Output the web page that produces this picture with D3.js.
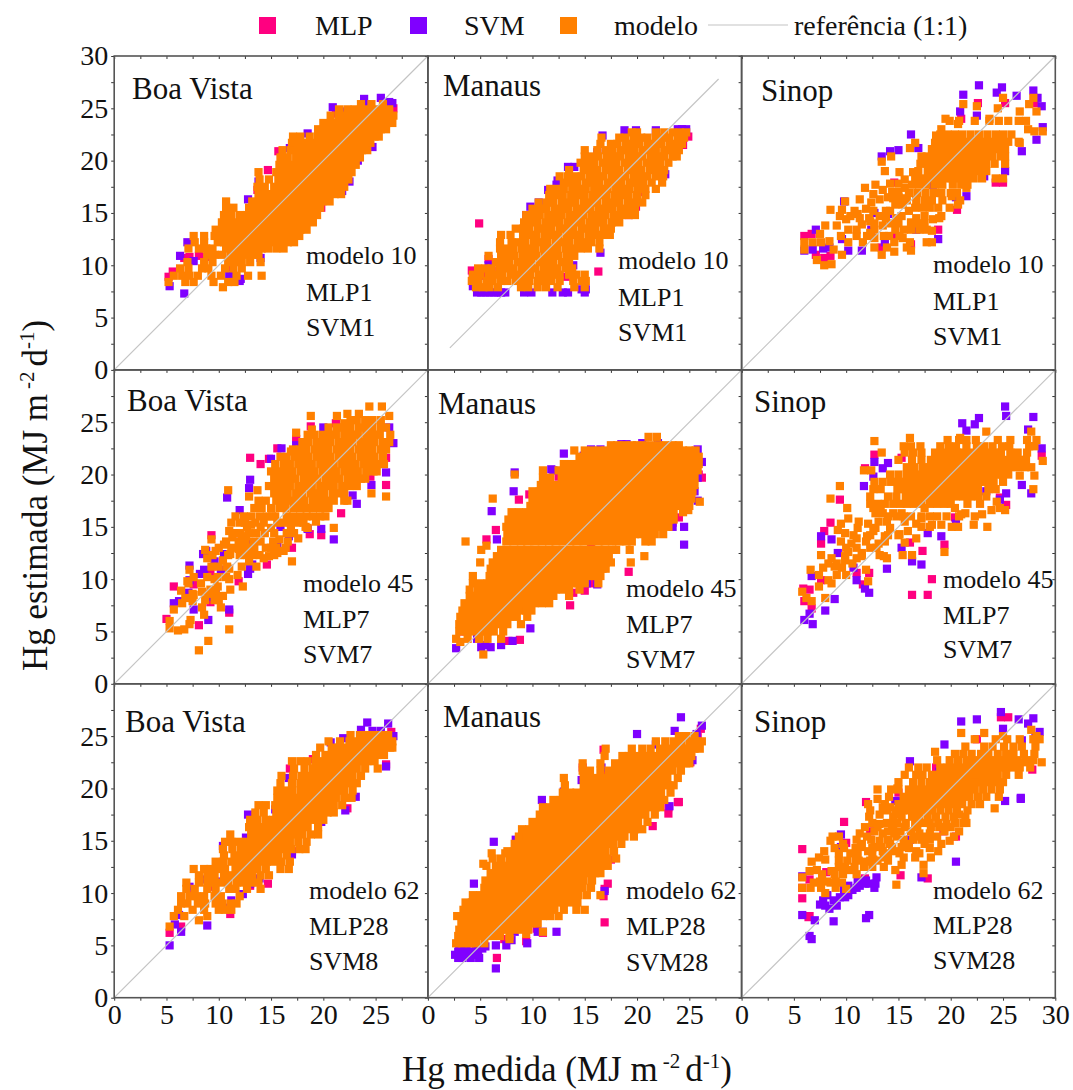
<!DOCTYPE html>
<html>
<head>
<meta charset="utf-8">
<script src="https://cdn.jsdelivr.net/npm/d3@7"></script>
<style>
  body { margin: 0; background: #fff; }
  text { font-family: "Liberation Serif", serif; fill: #111; }
</style>
</head>
<body>
<script>
// every row is [y, x, x, x, ...] (MJ m-2 d-1)
const bv10Mlp = [[8.9,5.2],[9.4,5.6],[9.8,11.2],[10.7,6.7],[10.8,7.2,8.9],[10.9,8.1],[12,16],[12.6,12.4],[13.2,17.3],[14.5,18.4],[15.5,19.8],[17.2,13.7],[19.1,14.7],[20.9,15.7],[24.5,21.2],[25,26.7]]
const bv10Svm = [[7.3,6.7],[8,5.3],[8.5,12],[8.7,12.1],[9,11],[10.4,7.6],[10.7,14],[10.9,6.3],[12.2,7,16],[13,17],[15.3,10.8],[15.9,19.6],[16.3,12.8],[17.1,21.8],[18,13.8,22.5],[20,23.3],[21.2,16.8],[21.3,24.7],[22.6,18.5],[24.7,21.7],[25.1,20.9],[25.4,24.1],[25.5,26.6],[25.6,26.3],[25.9,23.9],[26,25.5]]
const bv10Modelo = [[7.9,10.4],[8.4,5.2,6.8,7.6,9.5,10.9,11.5],[9,5.7,6.5,7.2,8,9.3,10.2,11.7,12.8,14.1],[9.7,6.3,7.1,8.4,9,10.6,11.4,12.2],[10.3,7,8.6,9.4,10.9,11.5,12.2,13,14],[11,8.9,9.6,10.3,11.1,11.8,12.5,13.2,13.8],[11.6,7.1,8.1,8.8,9.4,10.7,11.4,12.1,12.7,13.4,14.1,14.7,15.5,16.2],[12.2,7.7,8.6,9.9,10.5,11.2,11.9,12.5,13.2,13.9,14.5,15.2,15.9,16.6,17.2],[12.8,7.6,8.6,9.6,10.3,11,11.7,12.3,13,13.7,14.4,15,15.7,16.4,17,17.7],[13.4,9.7,10.4,11.1,11.7,12.4,13.1,13.8,14.4,15.1,15.8,16.5,17.1,17.8,18.4],[14.1,10.3,10.9,11.6,12.3,13,13.6,14.3,15,15.7,16.3,17,17.7,18.3,19],[14.8,10.5,11.2,12,12.7,13.3,14,14.7,15.3,16,16.7,17.4,18,18.7,19.4],[15.5,10.7,11.4,12.9,13.6,14.3,15,15.6,16.3,17,17.6,18.3,19,19.7],[16.1,10.7,13.2,13.9,14.6,15.2,15.9,16.6,17.2,17.9,18.6,19.3,19.9,20.6],[16.8,13.8,14.5,15.1,15.8,16.5,17.2,17.8,18.5,19.2,19.8,20.5,21.1,21.7],[17.5,13.7,14.4,15.3,16,16.7,17.4,18,18.7,19.4,20,20.7,21.4,22],[18.2,13.9,14.8,15.7,16.4,17,17.7,18.4,19,19.7,20.4,21,21.7,22.4],[18.9,13.8,15.5,16.1,16.8,17.5,18.1,18.8,19.5,20.2,20.8,21.5,22.2,22.7],[19.6,15.8,16.4,17.1,17.8,18.5,19.2,19.8,20.5,21.2,21.9,22.5,23.1],[20.3,15.9,16.6,17.4,18.1,18.8,19.4,20.1,20.8,21.5,22.1,22.8,23.5],[21,16.1,16.9,17.5,18.2,18.9,19.6,20.3,21,21.6,22.3,23,23.7,24.2],[21.7,17,17.7,18.4,19.1,19.7,20.4,21.1,21.8,22.5,23.1,23.8,24.5],[22.3,17.1,17.8,18.7,19.5,20.2,20.9,21.5,22.2,22.9,23.6,24.2,24.9,25.3],[23,19.5,20.1,20.8,21.5,22.1,22.8,23.5,24.1,24.8,25.5,26],[23.6,20,20.7,21.3,22,22.7,23.4,24,24.7,25.4,26.1,26.6],[24.3,20.7,21.5,22.2,22.9,23.5,24.2,24.9,25.6,26.2,26.7],[24.9,21.5,22.3,23,23.6,24.3,25,25.6,26.3],[25.4,23.6,24.6,25.7]]

const ma10Mlp = [[9,4.3,5,5.7],[9.5,4.2,4.9,5.5,6.1],[9.4,16.3],[8.9,13.2],[17,20.5],[15.6,19.9],[14.8,19.2],[21.5,24.4],[22.3,24.9],[14,4.9],[10.6,5.8]]
const ma10Svm = [[7.4,4.7,5.1,5.5,5.9,6.3,6.7,7,7.4,9.2,9.9,11.9,12.9,13.4,15],[7.7,14.7,15.1],[8,4.3],[10,5.8,13.9],[11.2,16.5],[14.8,9.4],[15.6,9.8],[16,10.6],[17.2,11.5],[17.7,12.3],[18.1,12.4],[19.4,14,13.4,15.3],[20.8,16.2],[22.4,16.7],[22.9,18.8,19.9,21.8],[23,23.9,24.3,24.7],[18.7,22.7]]
const ma10Modelo = [[7.9,4.6,5.3,5.9,6.7,8.9,9.6,10.5,11.3,12.4,14,15],[8.5,4.2,4.8,5.6,6.2,7,7.6,8.4,9,9.7,10.5,11.1,11.8,12.6,13.9,14.7,15.1],[9.1,4.3,5,5.8,6.4,7.1,7.9,8.5,9.2,9.8,10.6,11.3,12,12.6,13.5,14.2,15],[9.7,4.8,5.5,6.1,6.9,7.6,8.2,9,9.7,10.3,11.1,11.8,12.4,13.2,13.8],[10.3,6.5,7.2,7.8,8.6,9.3,9.9,10.7,11.4,12,12.8,13.5],[10.9,5.8,7,7.7,8.3,9.1,9.8,10.4,11.2,11.9,12.5,13.3,14],[11.6,6.9,7.6,8.2,9,9.7,10.3,11.1,11.8,12.4,13.2,13.9,14.6,15.3,16.4],[12.2,6.9,8,8.7,9.3,10.1,10.8,11.4,12.2,12.9,13.5,14.3,15,15.6,16.4],[12.9,7,7.9,9.1,9.8,10.4,11.2,11.9,12.5,13.3,14,14.6,15.4,16.1,16.7,17.4],[13.5,8.4,9.1,9.7,10.5,11.2,11.8,12.6,13.3,13.9,14.7,15.4,16,16.8,17.5],[14.1,9.2,9.9,10.5,11.3,12,12.6,13.4,14.1,14.7,15.5,16.2,16.8,17.6,18.3],[14.8,9.4,10.1,10.7,11.5,12.2,12.8,13.6,14.3,14.9,15.7,16.4,17,17.8,18.5,19.2,19.8],[15.4,10,10.7,11.3,12.1,12.8,13.4,14.2,14.9,15.5,16.3,17,17.6,18.4,19.1,19.8],[16,10.6,11.4,12,12.8,13.5,14.1,14.9,15.6,16.2,17,17.7,18.3,19.1,19.8,20.5],[16.7,11.6,12.3,12.9,13.7,14.4,15,15.8,16.5,17.1,17.9,18.6,19.2,20,20.8],[17.3,11.7,12.4,13,13.8,14.5,15.1,15.9,16.6,17.2,18,18.7,19.3,20.1,20.8,21.8],[17.9,13,13.7,14.3,15.1,15.8,16.4,17.2,17.9,18.5,19.3,20,20.6,21.4,22.4],[18.5,12.6,13.4,14.1,14.7,15.5,16.2,16.8,17.6,18.3,18.9,19.7,20.4,21,21.8,22.5],[19.1,13.5,14.9,15.6,16.2,17,17.7,18.3,19.1,19.8,20.4,21.2,21.9,22.6],[19.8,14.6,15.3,15.9,16.7,17.4,18,18.8,19.5,20.1,20.9,21.6,22.2,23],[20.4,15,15.7,16.3,17.1,17.8,18.4,19.2,19.9,20.5,21.3,22,22.6,23.4,23.8],[21,15,16.2,17,17.6,18.4,19.1,19.7,20.5,21.2,21.8,22.6,23.3,24],[21.6,16.5,17.5,18.1,18.9,19.6,20.2,21,21.7,22.3,23.1,23.8,24.3],[22.2,16.6,18.3,18.9,19.7,20.4,21,21.8,22.5,23.1,23.9,24.5],[22.7,19.5,20,21.8,22.6,23.4,24.1,24.7]]

const si10Mlp = [[12.8,6,14.6],[13,6.7],[11,7.1],[10.7,7.9],[10.9,8.5],[11.7,13.4],[12,16.2],[13.4,18.8],[15.3,20.6],[17.9,14.6,24.3,25],[24,21],[25.5,22.6,25.2,28]]
const si10Svm = [[27.2,22.7],[26.3,21.2],[27,24.9],[26.5,24.4],[26.7,27.9],[26.2,26.3],[26,28.3],[25.2,28.7],[23.2,28.8],[22,28.2],[20.9,26.8],[24.3,22.5],[24.7,20.9],[22.5,16.2],[20.4,13.4],[20.9,14.2],[21,15],[21.2,16.9],[16.1,9.8],[13.4,7.1,12.4,16.7],[11.4,6,10.2,11.5],[11.5,6.8],[11.6,7.8],[11.7,8.4],[12.5,18.8],[18.5,23.2],[19,25.2],[16.5,20.5],[16.6,21.5],[15,12.7],[14.9,14],[12.2,13.7],[12.5,9.6],[17.7,18.3]]
const si10Modelo = [[10,7.9],[10.1,8.6],[10.5,7.2],[11,9.6,13.4],[11.3,14.6],[11.4,16.2],[11.5,6,8.8],[11.7,12.7,13.9,15.8],[12.2,6,6.8,7.6,10.2,11.6,14.6,16.1,17.7,18.2],[12.3,8.4],[12.6,12.7,15.4],[12.8,9.5,11,12,13.6,14.1,15.1],[13,7.5],[13.1,12.3],[13.3,18.2],[13.4,10.2,11,16.2,12.7,14.7,15.5,17,17.7],[13.8,8,9.1,13.5],[13.9,11.5],[14,12.7,14.3,15,16.8,17.5],[14.1,16.2],[14.2,12.3],[14.4,10,18.3],[14.5,11.3,12.2,13.8,14.8,16.7,18.9],[14.7,9.4,10.4,13.2,15.3,17.5,19.1],[14.9,11.1],[15.2,14.2,10.8,12.6,13.8,16],[15.3,8.5,9.6],[15.4,11.9],[15.8,20.7,14.7,15.4],[16,12.4],[16.1,9.9],[16.3,11.3,13.2],[16.4,14.5,15.5],[16.5,14,15],[16.6,20.1],[16.8,12.6],[17,15,14.4],[17.2,13.5],[17.8,14.2,15],[15.5,16.6,17.3,18,18.8,19.9],[16.2,15.8,16.7,17.5,18.2,19.2,20.9],[16.9,16,16.8,17.6,18.4,19.1,20,20.6],[17.4,11.8,15.6,21.5],[17.7,12.8,16.3,17,17.7,18.5,19.2,20.2,21,21.6],[18.3,16.6,17.3,18,18.7,19.4,20.1,20.8,21.5,22.2,23,24.3,25],[18.2,15.6],[18.9,15.1,16.4],[19,13.7,16.9,17.8,18.5,19.2,19.9,20.6,21.3,22,22.7,23.4],[19.7,17.1,17.8,18.5,19.2,19.9,20.6,21.3,22,22.7,23.4,24.2,25.2],[19.9,13.4],[20.4,14.3,17.2,17.7,18.4,19.1,19.8,20.5,21.2,21.9,22.6,23.3,24,24.8,25.2],[21.1,18.2,18.9,19.6,20.3,21,21.7,22.4,23.1,23.8,24.5,25.2],[21.2,16.1],[21.7,16.6,18.5,26.6],[21.8,19.2,19.9,20.6,21.3,22,22.7,23.4,24.1,24.8,25.5,26.5],[22.4,18.6],[22.5,19,19.7,20.4,21.1,21.9,22.7,23.5,24.3,25,25.8],[22.8,28,28.8],[23,19.1,27.4],[23.5,20.7],[23.8,19.9,20.8,22.3,23.7,24.6,25.5,26.5,27.2],[24,19.5,23.7],[24.7,26.6,28.2],[25,24.5],[25.2,22.5],[25.4,21.2,27.5],[26,25,27.9]]

const bv45Mlp = [[5.6,8.1],[6.2,5],[6.8,11],[7.8,9.2],[9.3,5.7],[9.5,7.6],[9.8,11.9],[10.6,9.2],[11.4,14.6],[13,17],[14.2,9.3,19.8],[14.3,18.7],[16.3,21.7],[19,26],[19.8,24.5],[21,14],[21.5,14.8],[21.6,13,26],[22.5,15.6],[23.4,17.4],[24.6,18.8],[24.9,21.2]]
const bv45Svm = [[6.1,9],[7.1,7.6,11],[7.7,5.7],[7.9,6.2],[8.3,9.2],[8.7,7.1],[8.9,9.7],[9.9,7.2],[10.5,8.2,12.8],[10.9,8.6,10.2],[11,13],[11.3,7.2],[11.4,13.2],[11.7,9.6],[12.4,8.5,10.5],[12.7,8.8],[13.4,13.2,15.6],[13.8,21],[14.1,16.7],[14.4,11.5,17],[14.8,18.5,19.8],[15,15.9],[15.7,16.9,17.6],[15.9,17.4],[16.6,12],[17.2,23.2],[17.8,10.8],[18,22.8],[18.7,12.9],[19,24.6],[19.5,13],[20.2,26],[21.5,15],[22.5,16],[22.8,17.4],[23,26.7],[24.5,20,26.3]]
const bv45Modelo = [[3.2,8.1],[4.1,9],[5.1,6.1],[5.2,6.7,11],[5.3,5.3],[5.7,7.2],[6,5.3],[6.1,7.3],[6.6,8.6],[7.1,5.7],[7.3,10.2,8.4],[7.7,6.5],[7.9,7.5],[8,8.7,9.6,10],[8.2,6.8],[8.4,10.4],[8.5,7.6],[8.6,7.5,9,9.7],[8.8,8.4],[8.9,6.4],[9,9.2,11.1],[9.3,9.9,12.3],[9.6,8.3,7.1],[9.8,7],[10,9.6,11],[10.2,7.6,8.9,9.9,10.7],[10.4,11.8],[10.9,7.2],[11,11],[11.2,9.3,10,10.8,12.2,13.6],[11.7,12.9,17],[11.8,10.4],[12,8.9,14.3],[12.2,14.8],[12.3,9.4,10.9,12,12.7,13.3,13.9,15.3],[12.4,11.1],[12.5,15.6],[12.7,9.7,16.2],[12.8,8.7],[12.9,11.9,13.4],[13,10,11.2,12.5,13.1,14.5,15,15.5,16.4],[13.3,10.5],[13.6,10.7,11.9,12.5,13.3,14,15.2,16.6],[13.8,9.3,15.8],[13.9,17.6],[14,11.3,12.2],[14.1,12.6],[14.4,11.4,12.1,12.9,13.6,14.4,15.3,16.5,17.2],[14.6,11],[14.9,15,18.5,21],[15,12.7,14,16.9,18.3],[15.2,13.1],[15.4,11.2,12,12.5,13.5,14.3,15.6,16.1,16.8,17.5,18.1],[15.5,19.3],[16,11.6,12.4,15.1,16.5,17.1,17.8,18.4,13.1,13.9,14.6,15.4,19,19.7,20.2],[16.8,13.4,14.1,15,15.8,16.4,17.2,17.9,18.6,19.3,20,20.5],[17.5,13.8,14.5,15.5,16.2,16.9,17.6,18.2,19,19.7,20.4,21,22,22.3],[17.9,12.9,26],[18.2,15.3,16,16.6,17.4,18,18.8,19.5,20.1,20.9,21.6,22,24.6],[18.5,10.9,13.7],[18.9,14.8,15.5,16.2,16.8,17.6,18.3,18.9,19.7,20.4,21,21.8,22.5,23.2],[19.6,15.3,16,16.7,17.3,18.1,18.8,19.4,20.2,20.9,21.5,22.3,23,23.6,24],[20.3,15,15.7,16.4,17,17.8,18.5,19.1,19.9,20.6,21.2,22,22.7,23.3,24.1,24.8,25.1],[21,15.4,16.2,16.8,17.6,18.3,18.9,19.7,20.4,21,21.8,22.5,23.1,23.9,24.6,25.2,25.8],[21.7,15.9,16.5,17.3,18,18.6,19.4,20.1,20.7,21.5,22.2,22.8,23.6,24.3,24.9,25.7],[22.2,16.9],[22.4,17.1,17.8,18.4,19.2,19.9,20.5,21.3,22,22.6,23.4,24.1,24.7,25.5,26],[23.1,18,18.6,19.4,20.1,20.7,21.5,22.2,22.8,23.6,24.3,24.9,25.7,26.3],[23.8,18.5,19.1,19.9,20.6,21.2,22,22.7,23.3,24.1,24.8,25.4,26.4],[24,17.4],[24.3,18.9],[24.5,20.5,21.3,22,22.6,23.4,24.1,24.7,25.5,26],[24.9,22],[25.2,22.6,23.2,24,24.7,25.5],[25.6,18.8,21.3,26.3],[25.8,22.3,23.4],[26.5,24.4,25.6]]

const ma45Mlp = [[4.1,7.7],[4.2,8.8],[5,3.3],[7.1,6.4,9.4],[7.5,13.6],[8.7,13.9],[8.9,15],[9.6,15.6],[9.8,14.7],[10,6.3],[10.7,19.2],[12.9,15.6],[14.7,6.5],[15,16.3],[15.2,19.8],[15.4,23.4],[15.9,24],[17.6,8.7],[18.1,9.7],[19.8,12.5],[20,25.9],[19.7,26.2],[13.8,5.6]]
const ma45Svm = [[3.4,2.7],[3.5,5.1,6],[3.7,5.5,7],[4.1,8.1],[4.3,4.7],[5.3,9.8],[6,3.8],[9.6,15.2],[9.9,10.1],[9.5,16.2],[13.3,24.5],[13.8,6.6],[14.6,20.5],[15.5,21.9,23],[16.5,6.1],[17.1,24.5],[18.4,8.2],[20.2,8.3],[20.4,12],[20.5,11.8],[22,13],[21.8,14.9,15.8],[22.4,16.5,15.6],[22.9,18.5,19],[23,20.5,22],[22.4,25.8],[21.2,26.2],[19.7,25.8],[18.4,25.5],[17.5,25.8],[15,24.5,23.4]]
const ma45Modelo = [[2.8,5.3],[4,3.1],[4.3,2.7,3.8,4.9,5.7,7],[5,3,3.7,4.4,5,5.7,6.3,7.2],[5.7,3,3.6,4.3,5,5.6,6.3,7,7.6,8.9],[6.4,3.1,3.8,4.4,5.1,5.8,6.5,7.1,7.8,8.5,9.5],[7,3.3,4,4.7,5.3,6,6.7,7.4,8,8.7,9.4,9.9],[7.7,3.5,4.2,4.8,5.5,6.2,6.9,7.5,8.2,8.9,9.6,10.2,10.9,11.6],[8.4,4,4.7,5.3,6,6.7,7.4,8,8.7,9.4,10,10.7,11.4,12,13.5],[9,4,4.8,5.5,6.1,6.8,7.5,8.2,8.8,9.5,10.2,10.9,11.5,12.2,12.9,13.5,14.5],[9.6,4.3,5,5.7,6.3,16.3,7,7.7,8.3,9,9.7,10.4,11,11.7,12.4,13,13.7,14.4,15],[10.3,4.3,5.9,6.5,7.2,7.9,8.5,9.2,9.9,10.6,11.2,11.9,12.6,13.2,13.9,14.6,15.3,15.9,16.5],[11,6,6.7,7.3,8,8.7,9.4,10,10.7,11.4,12,12.7,13.4,14.1,14.7,15.4,16.1,16.7,17],[11.6,5,6.2,6.9,7.6,8.2,8.9,9.6,10.2,10.9,11.6,12.3,12.9,13.6,14.3,14.9,15.6,16.3,17,17.5,19.4],[12.2,6.6,7.3,8,8.7,9.3,10,10.7,11.3,12,12.7,13.4,14,14.7,15.4,16,16.7,17.3,20.7],[12.8,5.1,7,7.6,8.3,9,9.7,10.3,11,11.7,12.3,13,13.7,14.4,15,15.7,16.4,17,17.7,18,19.3],[13.2,5.6],[13.6,3.6,7.5,8.2,8.9,9.5,10.2,10.9,11.6,12.2,12.9,13.6,14.2,14.9,15.6,16.3,16.9,17.6,18.3,19,19.5,20.8,21.4],[14.3,7.6,8.3,9,9.7,10.3,11,11.7,12.4,13,13.7,14.4,15,15.7,16.4,17.1,17.7,18.4,19.1,19.8,20.4,21.1,21.7,22.5],[15,7.5,8.2,8.8,9.5,10.2,10.8,11.5,12.2,12.9,13.5,14.2,14.9,15.5,16.2,16.9,17.6,18.2,18.9,19.6,20.2,20.9,21.6,22.3,23],[15.7,7.7,8.4,9,9.7,10.4,11.1,11.7,12.4,13.1,13.7,14.4,15.1,15.8,16.4,17.1,17.8,18.4,19.1,19.8,20.5,21.1,21.8,22.5,23.1,23.5],[16.4,8,8.7,9.4,10,10.7,11.4,12,12.7,13.4,14.1,14.7,15.4,16.1,16.7,17.4,18.1,18.8,19.4,20.1,20.8,21.4,22.1,22.8,23.5,24.4],[16.6,24.9],[17,9.8,10.5,11.2,11.9,12.5,13.2,13.9,14.5,15.2,15.9,16.6,17.2,17.9,18.6,19.2,19.9,20.6,21.3,21.9,22.6,23.3,23.9,24.5,25],[17.4,26],[17.7,6.2,10,10.7,11.4,12,12.7,13.4,14,14.7,15.4,16.1,16.7,17.4,18.1,18.7,19.4,20.1,20.8,21.4,22.1,22.8,23.4,24.1,24.8,25.2],[18.4,10,10.7,11.4,12.1,12.7,13.4,14.1,14.7,15.4,16.1,16.8,17.4,18.1,18.8,19.4,20.1,20.8,21.5,22.1,22.8,23.5,24.1,24.8,25.3],[19,10.8,11.5,12.1,12.8,13.5,14.2,14.8,15.5,16.2,16.8,17.5,18.2,18.9,19.5,20.2,20.9,21.5,22.2,22.9,23.6,24.2,24.9,25.5],[19.7,11,11.7,12.8,13.5,14.1,14.8,15.5,16.2,16.8,17.5,18.2,18.8,19.5,20.2,20.9,21.5,22.2,22.9,23.5,24.2,24.9,25.5],[20,8.3],[20.4,11,12.5,13.2,13.9,14.5,15.2,15.9,16.5,17.2,17.9,18.6,19.2,19.9,20.6,21.2,21.9,22.6,23.3,23.9,24.6,25.3,25.8],[21,13,13.7,14.4,15.1,15.7,16.4,17.1,17.7,18.4,19.1,19.8,20.4,21.1,21.8,22.4,23.1,23.8,24.5,25.2,25.9],[21.7,14.5,15.2,15.8,16.5,17.2,17.8,18.5,19.2,19.9,20.5,21.2,21.9,22.5,23.2,23.9,24.6,25.3,25.9],[22.3,14,15,15.7,16.4,17,17.7,18.4,19.1,19.7,20.4,21.1,21.7,22.4,23.1,23.8,24.4,25,25.6],[22.8,17.5,18.1,18.8,19.5,20,20.7,21.4,22.1,22.7,23.4,24],[23.6,21.1,21.9]]

const si45Mlp = [[7.2,6.7],[7.9,6],[8.5,16.3,17.8],[9,6.5],[9.1,5.9],[9.5,11.6],[9.9,7.6],[10,18.2],[10.6,11,12.2],[12.7,17.3],[13.3,19.4],[13.4,7.6],[13.5,16.1],[14.6,7.9],[15.4,8.5],[15.9,20.4],[17.1,25.3],[17.6,9.4],[17.8,24.7],[20.6,11.8],[21.6,15.3],[21.8,28.7],[21.9,12.7]]
const si45Svm = [[5.7,6.8],[6.1,6],[6.7,6.5],[7,8],[8.1,8.9],[8.7,12.2],[9.1,11.8],[9.9,11],[10.3,6.7],[11,13.9],[11.1,10.7],[11.4,17.2],[11.7,16.3],[12.5,9.2],[13,15.3],[13.8,8.6],[14.1,7.6],[14.4,17.8],[15.3,20.5],[14.1,19.1],[17.6,24.7],[18.2,25.3,27.7],[18.4,23.4],[18.9,11.7],[19,26.8],[19.8,12.6],[20.6,13.5],[21.1,14],[21.2,12.7],[22.5,28.7],[24.2,21.5],[24.3,27.4],[24.8,22.3],[24.9,21.1],[25.4,22.7],[25.5,27.9],[25.6,25.3],[26.5,25.2]]
const si45Modelo = [[7.9,6.7],[8.2,8,6.2],[8.8,5.8],[9.3,7.4],[9.6,8.6],[9.8,12.1],[9.9,8.3],[10.4,9.1,7.4,10],[10.9,6.6,11.9],[11.1,7.8,9.6],[11.2,8.9],[11.5,8.3,9.1,10.6],[11.8,9.9],[12,8.6,11,13.9],[12.2,9.9,11.5,13.6],[12.3,7.6,13.2,15.4,16.3],[12.5,11.5],[12.6,10.2,19.4],[13,12.3,10,11,12.9],[13.4,10.5,13.1],[13.5,15.6],[13.6,9.5,11.9,13.7],[13.9,11,16.7],[14.1,12,13.7],[14.2,10.7,12.3,14,15],[14.3,15.1],[14.4,9.9],[14.6,12.6,15.9],[14.7,9.2],[14.9,11.1,12.8,14.2],[15,17.2,18,20.1,20.7,23.5],[15.2,18.2,19.1,22.2],[15.3,9.5,12.1,16.7],[15.5,11.2,13.1,13.9,15.6],[15.8,10.2,17.2],[16,14,14.8,15.5,16.2,17.2,18,18.7,19.6,20.8,22.3],[16.2,21,23],[16.3,12.8,21.4,13.5,14.5,15.3],[16.6,23.9,25.2],[16.8,10.1,17.5,12.6,13.3,20.4,24.7],[17.2,12.3,13,13.7,14.5,15.2,15.8,16.5,17.2,18,18.7,19.4,20,22.8,21.6],[17.4,24.4],[17.7,8.5],[17.9,12.3,14,14.8,15.7,16.3,17,17.7,18.4,19.1,19.8,20.5,21.2,21.9,22.6,23.4],[18.6,12.6,13.3,14.9,15.6,16.3,17,17.7,18.4,19.1,19.8,20.5,21.2,21.9,22.6,23.6,24.3,27.9],[18.9,9.4],[19.3,12.7,13.5,14.3,15,15.7,16.4,17.1,17.8,18.5,19.2,19.9,20.6,21.3,22,22.7,23.4,24.1,25],[19.9,26.6,28],[20,14.2,15,15.8,16.5,17.2,17.9,18.6,19.3,20,20.7,21.4,22.1,22.8,23.5,24.2,24.9,25.5],[20.4,11.7,12.4],[20.7,15.8,16.5,17.3,18,18.7,19.4,20.1,20.8,21.5,22.2,22.9,23.6,24.3,25,25.7,26.4,27.1,27.7],[21.3,28.8],[21.4,15,16.3,17.2,18.1,18.8,19.5,20.2,20.9,21.6,22.3,23,23.7,24.4,25.1,25.8,26.5,27.2],[22.1,13.4,15.6,16.4,17.2,18.5,19.2,19.9,20.6,21.3,22,22.7,23.4,24.1,24.8,25.7,26.4,27.3],[22.7,15.5,16.2,17.1,19,19.8,20.5,21.5,22.5,23.2,24,24.9,25.6,27.5,28],[23.2,12.7],[23.3,19.7,20.8,21.5,22.4,24.5,25.7,27.3,28.2],[23.5,16.1,20.9],[24.1,23.4,27.7]]

const bv62Mlp = [[6.2,5.3],[6.8,6.4],[8,11.1],[9.8,7.6],[10.6,9],[10.7,13],[10.9,14.7],[14,17],[18.1,22.3],[21.9,16.8],[22.3,26],[22.8,19],[25.4,26.5]]
const bv62Svm = [[5,5.3],[6.3,6.4],[6.9,8.9],[7,5.8],[7.9,6.2],[8.6,10.7],[9.3,11.2],[9.9,12.3],[10.6,7.2],[10.9,13],[11.1,10.2],[11.3,8.3],[11.4,13.9],[13.7,17],[14.5,10.4],[15.3,12.6],[17.5,12.8],[17.9,22.1],[18,15.4],[19.2,23.1],[16.8,19.8],[21,16.7],[22.1,26],[24.4,20.7],[24.8,21.9],[25.5,24.7,25.5],[25.6,23.6],[26.2,26.2],[26.3,24.2],[25,26.7]]
const bv62Modelo = [[6.8,5.3],[7.4,8.1],[7.8,5.7,6.7,8.9],[8.4,6.1,7.5,8.6,10,10.6,11.2],[9,6.4,7,8,8.7,9.7,10.3,11.1,11.7],[9.7,6.4,7.2,7.9,8.6,9.6,10.2,12],[10.4,6.9,7.7,8.9,9.7,11,11.6,12.7,14],[11,6.9,8.1,8.9,9.5,10.2,10.9,11.7,12.4,13.1,13.8],[11.7,8.1,8.9,9.6,10.5,11.2,11.9,12.6,13.2,14,14.8],[12.3,7.6,8.6,9.2,9.9,10.6,11.6,12.3,13,13.7,14.5,15.9,16.7],[13,9.7,10.4,11.2,11.9,12.6,13.3,14,14.6,15.3,16,16.8],[13.6,10.5,11.5,12.2,12.9,13.6,14.3,15,15.7,16.5],[14.2,10.4,11.3,12.1,12.8,13.5,14.2,14.8,15.5,16.2,16.9,17.7,18.3],[14.9,10.6,11.2,11.9,12.6,13.3,14,14.7,15.4,16.1,16.8,17.6,18.4],[15.6,11.1,13.1,13.8,14.5,15.2,15.9,16.6,17.3,18,18.8,19.5],[16.3,12.9,13.6,14.3,15,15.7,16.4,17.1,17.8,18.5,19.5],[17,13,13.7,14.5,15.2,15.9,16.6,17.3,18,18.7,19.4,20],[17.7,13.5,14.3,15.5,16.2,16.9,17.6,18.3,19,19.7,20.4,21],[18.4,13.8,14.5,15.4,16.1,16.8,17.5,18.2,18.9,19.6,20.3,21,21.8],[19.1,15.6,16.3,17,17.7,18.4,19.1,19.8,20.5,21.2,22,22.7],[19.8,15.6,16.3,17,17.8,18.5,19.2,19.9,20.6,21.3,22,22.8],[20.5,15.9,17,17.8,18.5,19.2,19.9,20.6,21.3,22,22.7,23.2],[21.2,16,17.1,17.9,18.6,19.3,20,20.7,21.4,22.1,22.8,23.6],[21.9,17.2,18.2,19,19.7,20.4,21.1,21.8,22.5,23.2,24,25.2],[22.6,17,17.8,18.5,19.3,20,20.7,21.4,22.1,22.8,23.5,24.2,24.9],[23.2,19.3,20.2,20.9,21.6,22.3,23,23.7,24.4,25.1,25.8],[23.9,19.7,20.8,21.5,22.2,22.9,23.6,24.3,25,25.7,26.4,26.6],[24.5,20.5,21.6,22.5,23.2,23.9,24.6,25.3,26,26.6],[25.1,22.6,23.5,24.2,24.9,25.6,26.2]]

const ma62Mlp = [[3.8,6.6],[4,3.6],[4.4,3,4.5],[5.4,9.4],[5.6,7.3],[6.2,11],[6.6,10.4],[7.2,16.9],[9.7,16.8],[10.4,16.9],[10.9,17.2],[13.2,17.5],[16.4,21.5],[17.6,23],[18.2,23],[18.7,23.9,24],[20.4,15],[21.3,16.7],[22,14.8],[22.5,25.1],[23.7,16.8],[24.9,25.8],[25.7,26.1]]
const ma62Svm = [[2.8,6.5],[3.8,2.9,3.3,4.1,4.9],[4.1,2.6,3.2,3.5,4,4.6],[4.4,2.9,3.5,4.1,4.8],[4.7,3,3.7,4.6,5.2],[4.9,5.5],[5,6.5,7.5],[5.2,9.5],[5.5,8],[6.3,8.3,11,10.5,12.3],[10.2,16.9],[10.9,4.4],[14.9,6.3],[15.1,8.4],[15.4,9.4],[18.3,23.1],[18.9,10.9],[19.7,13],[19.9,16.1],[20.8,14.7],[21.2,22.8],[22,16.6,22.8],[22.7,25.3],[23.6,24.9,24.6],[24.2,21.8],[25.2,20,25.7],[25.5,23.6],[26.8,24.2],[26,26.2]]
const ma62Modelo = [[5.2,2.7,3.3,4,4.6,5.4],[5.6,7.8],[5.9,2.9,3.6,4.2,4.9,5.6,6.2,6.9,7.8],[6.1,9.4],[6.3,11],[6.5,3,3.7,4.3,5,5.7,6.3,7,7.7,8.3,9,9.6],[7.1,3.2,3.9,4.5,5.2,5.9,6.5,7.2,7.9,8.5,9.2,9.9,10.5],[7.8,2.8,3.5,4.2,4.9,5.6,6.2,6.9,7.6,8.3,9,9.6,10.3,11,11.7,12.5],[8.4,3.4,4.1,4.7,5.4,6.1,6.8,7.4,8.1,8.8,9.4,10.1,10.8,11.5,12.1,13,14.2,15],[9.1,3.6,4.2,4.9,5.6,6.2,6.9,7.6,8.3,8.9,9.6,10.3,10.9,11.6,12.3,13,13.6,14.3],[9.8,4.3,5,5.7,6.3,7,7.7,8.4,9,9.7,10.4,11,11.7,12.4,13.1,13.7,14.4,15.2,16.5],[10.5,5.4,6.1,6.7,7.4,8.1,8.8,9.4,10.1,10.8,11.4,12.1,12.8,13.5,14.1,14.8,15.6],[11.2,5.5,6.2,6.9,7.5,8.2,8.9,9.6,10.2,10.9,11.6,12.2,12.9,13.6,14.3,14.9,15.7],[11.9,6,6.6,7.3,8,8.7,9.3,10,10.7,11.3,12,12.7,13.4,14,14.7,15.4,16,16.5],[12.6,5.6,6.5,7.2,7.8,8.5,9.2,9.9,10.5,11.2,11.9,12.5,13.2,13.9,14.6,15.2,15.9,16.6,17.2],[12.8,5.3],[13.3,6.2,7,7.8,8.5,9.2,9.8,10.5,11.2,11.9,12.5,13.2,13.9,14.5,15.2,15.9,16.6,17.2,18],[13.8,6.1,7.4],[14,7.6,8.3,9,9.7,10.3,11,11.7,12.3,13,13.7,14.4,15,15.7,16.4,17,17.8],[14.7,8.3,8.9,9.6,10.3,11,11.6,12.3,13,13.6,14.3,15,15.7,16.3,17,17.7,18.5],[15.4,8.7,9.4,10.1,10.8,11.4,12.1,12.8,13.4,14.1,14.8,15.5,16.1,16.8,17.5,18.1,18.8,19.7],[16.1,9,9.7,10.4,11,11.7,12.4,13,13.7,14.4,15.1,15.7,16.4,17.1,17.7,18.4,19.1,19.8,20.5],[16.8,10,10.7,11.3,12,12.7,13.3,14,14.7,15.4,16,16.7,17.4,18,18.7,19.4,20.1,21],[17.5,10.7,11.4,12,12.7,13.4,14,14.7,15.4,16.1,16.7,17.4,18.1,18.7,19.4,20.1,20.8,21.7],[18.2,11,11.7,12.4,13,13.7,14.4,15,15.7,16.4,17.1,17.7,18.4,19.1,19.7,20.4,21.1,21.8,22.2],[18.9,12,12.7,13.3,14,14.7,15.3,16,16.7,17.4,18,18.7,19.4,20,20.7,21.4,22.1,22.6],[19.6,12.9,13.6,14.2,14.9,15.6,16.3,16.9,17.6,18.3,18.9,19.6,20.3,21,21.6,22.3,23.2],[20.3,13.1,14.9,15.6,16.2,16.9,17.6,18.3,18.9,19.6,20.3,20.9,21.6,22.3,23,23.5],[21,13,14.9,15.5,16.2,16.9,17.6,18.2,18.9,19.6,20.2,20.9,21.6,22.3,22.9,23.9],[21.7,14.8,15.5,16.5,17.3,18,18.7,19.3,20,20.7,21.4,22,22.7,23.4,24.2],[22.4,14.8,16.5,17.9,18.6,19.3,19.9,20.6,21.3,22,22.6,23.3,24,24.7,25],[23.1,16.9,18.6,19.2,19.9,20.6,21.3,21.9,22.6,23.3,24,24.6,25.2],[23.8,17,19.5,20.5,21.3,22.2,22.9,23.6,24.3,25,25.5,26],[24.5,21.8,22.7,23.5,24.2,25,25.7,26.2],[25,24,24.7,25.5]]

const si62Mlp = [[7.7,6.4],[7.8,6.5],[9.5,5.8],[10.5,5.8],[11.3,6.5],[11.4,11.8,17.8],[11.7,15.2],[12,8.1],[14.2,5.8],[15.4,20.5],[14.8,10],[15.9,12.3,19.3],[16.8,9.8],[18.7,11.9],[19.6,15],[20.6,22.3],[21.8,27.8],[22,18.6],[24.7,22.5],[26.8,24.8,25.5]]
const si62Svm = [[5.6,6.7],[5.9,6.5],[7.4,7],[7.6,11.9],[7.9,12.2],[7.3,8.8],[7.9,5.8],[8.5,8.4],[8.8,8,9.1],[8.9,7.5],[9.3,7.8,8.8],[9.6,9.4,9.9],[9.8,8.2,10.2],[10.3,9.8,10.6],[10.5,11,12.7],[10.7,10.2,11.3],[10.9,11.8,12.2,12.8],[11.2,11.1,11.9],[11.5,17.2,12.9],[11.6,5.8],[13,20.5],[14.4,9.5],[15.1,16.1],[15.6,9.5],[18.8,14.7,15.1],[19.1,26.7],[20.8,20.9],[21.6,18.9],[22.6,16.1],[24.2,19.4],[24.6,26.8],[25.4,28.5],[26.4,21],[26.6,22.5,26.5],[26.7,27.9],[25.7,25],[27.3,24.8],[26.2,27.4],[25,28.1],[18.8,25.2],[19,26.7]]
const si62Modelo = [[10,8],[10.4,10],[10.5,5.8,6.6,7.6,9],[10.8,14.8],[11,6.9,8.5,9.6],[11.1,7.5,8.2,9],[11.5,5.8],[11.8,7.7,8.9,9.7,11],[11.9,17.4],[12.1,6.5,8.6],[12.2,7.2,10.3,14.7],[12.5,9.3,9.9,10.8,11.7,12.5,13.6],[12.7,15.3,17.4],[13,6.7,11.9],[13.1,9.3,10.1,11.2,12.3,13,14],[13.2,8,10.9,12.6],[13.4,7.4,13.6,15.5,16.6,18.1],[13.8,9.3,15.1,17,10.4,11.1,12.5,14],[14,7.9,12.1,13.5,14.7,16.7,18.8],[14.3,8.9,9.8,10.9,12.5,16,18],[14.4,11.4,12.7,13.4,14.4,15.3],[14.7,9.7,11.5,14.2,15.9,17.5,19.1],[15,8.5,13.2,19.9],[15.1,11,12.4,14,15.5,16.4,17.2,18],[15.4,8.7,9.3,12,14.8,16.5,17.6,18.7,20.3],[15.7,11.3,13.5,14.6,17,18],[15.9,12.7,14,15.2,16.2,19.4,20.8],[16.3,11.8,13,14.5,15.6,16.8,18.1,18.9,20],[16.6,13.2,14.4,19.6],[16.7,12.5,13.9,14.9,15.7,16.6,17.3,18,18.8,20.4,21.2,21.5],[17.3,12.2,14.5,15.3,16.3,17,17.8,18.6,19.5,20.3,21.4],[17.5,13.2,15,20.8],[17.9,12.3,13.9,14.7,15.4,16.1,16.8,17.5,18.2,19,19.8,20.6,21.6],[18.1,24.2],[18.2,13.5,14.2],[18.5,12.1,13.7,15,15.6,16.3,17,17.7,18.4,19,19.7,20.4,21.1,22,22.8],[19,13],[19.2,14.1,15.5,16.2,16.9,17.6,18.3,19,19.7,20.4,21.1,21.8,22.6,23.4,24.6],[19.9,13,14.3,15,16,16.7,17.4,18.1,18.8,19.5,20.2,20.9,21.6,22.3,23.1,23.9,24.7],[20,14.9],[20.6,15,16.4,17.2,18,18.7,19.4,20.1,20.8,21.5,22.2,22.9,23.6,24.3,25],[21.3,15.6,16.7,17.3,18.2,18.9,19.6,20.3,21,21.7,22.4,23.1,23.8,24.5,25.3,26.5],[22,16,16.9,17.7,19,19.7,20.4,21.1,21.8,22.5,23.2,23.9,24.6,25.3,26,26.6,27.6],[22.5,26.9,28.7],[22.7,18.7,19.9,20.7,21.5,22.2,22.9,23.6,24.3,25,25.7,26.4,27.2,27.9],[23.3,20.4,21.2,22,22.9,23.6,24.5,25.3,26,27,28],[23.5,18.5],[24,21.4,23.2,24,25.1,26,26.8,28.1],[24.7,22.3,24.3,25.4,26.6,27.9,28.5],[25,25,28.2],[25.3,21,23.2],[25.6,27.7]]

const stations = ['Boa Vista', 'Manaus', 'Sinop']
const models = [['modelo 10', 'MLP1', 'SVM1'], ['modelo 45', 'MLP7', 'SVM7'], ['modelo 62', 'MLP28', 'SVM8'], ['modelo 62', 'MLP28', 'SVM28']]
const minorTicks = [0, 2.5, 5, 7.5, 10, 12.5, 15, 17.5, 20, 22.5, 25, 27.5, 30]

const colors = { mlp: '#ff0080', svm: '#8000ff', modelo: '#ff8000', ref: '#c4c4c4' }

// panel table, in reading order
const panels = [
  { r: 0, c: 0, name: stations[0], m: models[0], mlp: bv10Mlp, svm: bv10Svm, mod: bv10Modelo, nx: 132, ny: 99, tx: 306, ty: [264, 301, 336] },
  { r: 0, c: 1, name: stations[1], m: models[0], mlp: ma10Mlp, svm: ma10Svm, mod: ma10Modelo, nx: 443, ny: 96, tx: 618, ty: [269, 306, 341], line: [2.1, 27.8] },
  { r: 0, c: 2, name: stations[2], m: models[0], mlp: si10Mlp, svm: si10Svm, mod: si10Modelo, nx: 761, ny: 101, tx: 933, ty: [273, 310, 345] },
  { r: 1, c: 0, name: stations[0], m: models[1], mlp: bv45Mlp, svm: bv45Svm, mod: bv45Modelo, nx: 127, ny: 411, tx: 303, ty: [592, 628, 663] },
  { r: 1, c: 1, name: stations[1], m: models[1], mlp: ma45Mlp, svm: ma45Svm, mod: ma45Modelo, nx: 438, ny: 414, tx: 626, ty: [597, 633, 668] },
  { r: 1, c: 2, name: stations[2], m: models[1], mlp: si45Mlp, svm: si45Svm, mod: si45Modelo, nx: 754, ny: 412, tx: 943, ty: [588, 624, 658] },
  { r: 2, c: 0, name: stations[0], m: models[2], mlp: bv62Mlp, svm: bv62Svm, mod: bv62Modelo, nx: 125, ny: 732, tx: 309, ty: [899, 935, 970] },
  { r: 2, c: 1, name: stations[1], m: models[3], mlp: ma62Mlp, svm: ma62Svm, mod: ma62Modelo, nx: 443, ny: 727, tx: 626, ty: [899, 935, 971] },
  { r: 2, c: 2, name: stations[2], m: models[3], mlp: si62Mlp, svm: si62Svm, mod: si62Modelo, nx: 754, ny: 732, tx: 933, ty: [899, 934, 969] }
]

const w = 1073
const h = 1090
const left = 114.2
const top0 = 56
const pw = 313.7
const ph = 313.9
const sq = 8.2

const svg = d3.select('body').append('svg')
  .attr('width', w)
  .attr('height', h)
  .style('display', 'block')

const xScale = d3.scaleLinear().domain([0, 30]).range([0, pw])
const yScale = d3.scaleLinear().domain([0, 30]).range([ph, 0])

const expand = rows => rows.flatMap(([y, ...xs]) => xs.map(x => [x, y]))
const majorLabel = d => (d % 5 === 0 ? d : '')

panels.forEach(p => {
  const g = svg.append('g')
    .attr('transform', 'translate(' + (left + p.c * pw) + ',' + (top0 + p.r * ph) + ')')

  ;[[p.mlp, colors.mlp], [p.svm, colors.svm], [p.mod, colors.modelo]].forEach(([rows, col]) => {
    g.append('g').selectAll('rect')
      .data(expand(rows))
      .enter()
      .append('rect')
      .attr('x', d => xScale(d[0]) - sq / 2)
      .attr('y', d => yScale(d[1]) - sq / 2)
      .attr('width', sq)
      .attr('height', sq)
      .attr('fill', col)
  })

  const ends = p.line || [0, 30]
  g.append('line')
    .attr('x1', xScale(ends[0])).attr('y1', yScale(ends[0]))
    .attr('x2', xScale(ends[1])).attr('y2', yScale(ends[1]))
    .attr('stroke', colors.ref)
    .attr('stroke-width', 1.2)

  // top and right ticks point inward and carry no labels
  g.append('g').attr('class', 'ax')
    .call(d3.axisBottom(xScale).tickValues(minorTicks).tickSize(3).tickFormat(''))
  g.append('g').attr('class', 'ax').attr('transform', 'translate(' + pw + ',0)')
    .call(d3.axisLeft(yScale).tickValues(minorTicks).tickSize(3).tickFormat(''))

  if (p.c === 0) {
    const labels = p.r === 0 ? minorTicks : minorTicks.slice(0, -1)
    g.append('g').attr('class', 'ax lab')
      .call(d3.axisLeft(yScale).tickValues(labels).tickSize(3).tickPadding(3).tickFormat(majorLabel))
  }
  if (p.r === 2) {
    const labels = p.c === 2 ? minorTicks : minorTicks.slice(0, -1)
    g.append('g').attr('class', 'ax lab').attr('transform', 'translate(0,' + ph + ')')
      .call(d3.axisBottom(xScale).tickValues(labels).tickSize(3).tickPadding(3).tickFormat(majorLabel))
  }

  g.append('rect')
    .attr('width', pw)
    .attr('height', ph)
    .attr('fill', 'none')
    .attr('stroke', '#555')
    .attr('stroke-width', 1.6)

  svg.append('text').attr('x', p.nx).attr('y', p.ny).attr('font-size', 31).text(p.name)
  p.m.forEach((t, i) => {
    svg.append('text').attr('x', p.tx).attr('y', p.ty[i]).attr('font-size', 26).text(t)
  })
})

svg.selectAll('.ax path').attr('stroke', 'none')
svg.selectAll('.ax line').attr('stroke', '#333').attr('stroke-width', 1)
svg.selectAll('.lab text').attr('font-size', 28).attr('font-family', '"Liberation Serif", serif').attr('fill', '#111')

// legend
const legendSquares = [[colors.mlp, 259], [colors.svm, 410], [colors.modelo, 560]]
legendSquares.forEach(([col, x]) => {
  svg.append('rect').attr('x', x).attr('y', 17).attr('width', 17).attr('height', 17).attr('fill', col)
})
const legendTexts = [['MLP', 315], ['SVM', 464], ['modelo', 614], ['referência (1:1)', 794]]
legendTexts.forEach(([t, x]) => {
  svg.append('text').attr('x', x).attr('y', 35).attr('font-size', 28).text(t)
})
svg.append('line')
  .attr('x1', 708).attr('x2', 788).attr('y1', 25).attr('y2', 25)
  .attr('stroke', colors.ref).attr('stroke-width', 1.2)

// axis titles with raised exponents
function unitTitle(sel, lead) {
  sel.attr('font-size', 35)
  sel.append('tspan').text(lead + ' (MJ m')
  sel.append('tspan').attr('font-size', 21).attr('dy', -13).attr('dx', 5).text('-2')
  sel.append('tspan').attr('dy', 13).attr('dx', 5).text('d')
  sel.append('tspan').attr('font-size', 21).attr('dy', -13).text('-1')
  sel.append('tspan').attr('dy', 13).text(')')
}
svg.append('text').attr('x', 402).attr('y', 1081).call(unitTitle, 'Hg medida')
svg.append('text').attr('transform', 'translate(47,671) rotate(-90)').call(unitTitle, 'Hg estimada')
</script>
</body>
</html>
